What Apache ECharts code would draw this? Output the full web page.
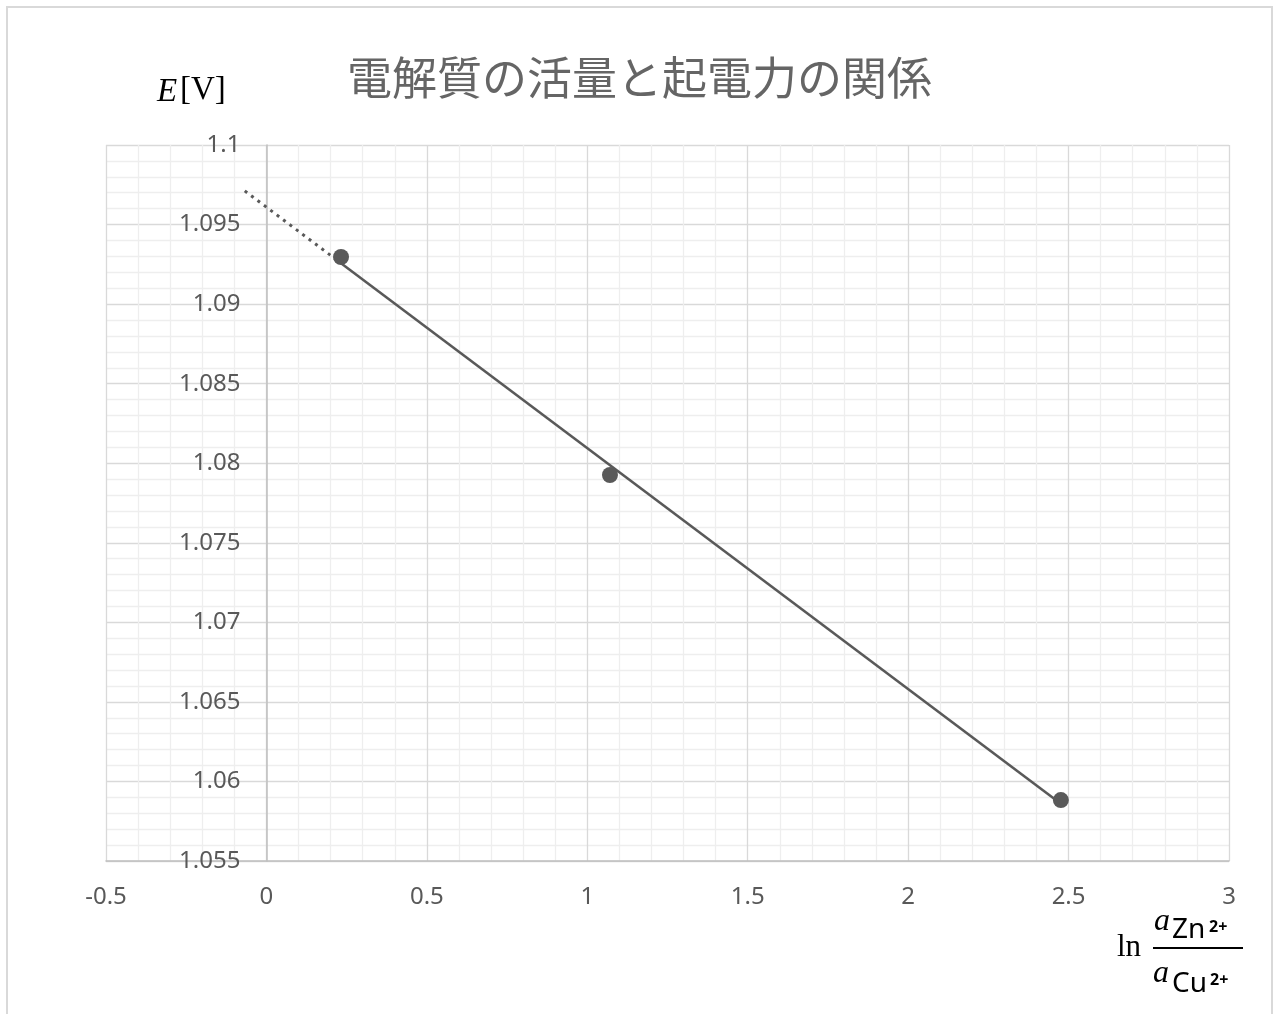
<!DOCTYPE html>
<html><head><meta charset="utf-8">
<script src="https://cdn.jsdelivr.net/npm/echarts@6/dist/echarts.min.js"></script>
<style>html,body{margin:0;padding:0;background:#fff}#c{width:1279px;height:1014px}</style>
</head><body><div id="c"></div>
<script>
const titleText = '電解質の活量と起電力の関係';
const lnRatio = [0.2325, 1.0707, 2.476];
const emfV = [1.09296, 1.07926, 1.05883];
const backcastStart = -0.0675;

// linear trendline (least squares) from the data
const n = lnRatio.length;
const mx = lnRatio.reduce((a,b)=>a+b,0)/n, my = emfV.reduce((a,b)=>a+b,0)/n;
let sxy=0, sxx=0;
for (let i=0;i<n;i++){ sxy+=(lnRatio[i]-mx)*(emfV[i]-my); sxx+=(lnRatio[i]-mx)**2; }
const slope = sxy/sxx, icpt = my - slope*mx;
const f = x => icpt + slope*x;
const xFirst = Math.min(...lnRatio), xLast = Math.max(...lnRatio);

const gridLeft = 106, gridRight = 50, width = 1279;
const xMin = -0.5, xMax = 3;
const plotW = width - gridLeft - gridRight;
const yAxisOffset = -plotW * (0 - xMin) / (xMax - xMin);

const chart = echarts.init(document.getElementById('c'));
const gray = '#595959';
const sans = '"Noto Sans", "Noto Sans CJK JP", sans-serif';
const cjk = '"Noto Sans CJK JP", sans-serif';
chart.setOption({
  animation:false,
  backgroundColor:'#fff',
  title:{text:titleText, left:'center', top:50,
    textStyle:{fontFamily:cjk, fontSize:45, fontWeight:'normal', color:'#656565'}},
  grid:{left:gridLeft, right:gridRight, top:145, bottom:153},
  xAxis:{type:'value', min:xMin, max:xMax, interval:0.5,
    axisLine:{show:true, onZero:false, lineStyle:{color:'#bfbfbf', width:1.5}},
    axisTick:{show:false},
    axisLabel:{color:gray, fontSize:24, fontFamily:sans, margin:24},
    splitLine:{show:true, lineStyle:{color:'#d9d9d9', width:1.3}},
    minorTick:{show:false, splitNumber:5},
    minorSplitLine:{show:true, lineStyle:{color:'#eeeeee', width:1.3}}},
  yAxis:{type:'value', min:1.055, max:1.1, interval:0.005, offset:yAxisOffset,
    axisLine:{show:true, onZero:false, lineStyle:{color:'#bfbfbf', width:1.5}},
    axisTick:{show:false},
    axisLabel:{color:gray, fontSize:24, fontFamily:sans, margin:26,
      formatter: v => String(parseFloat(v.toFixed(3)))},
    splitLine:{show:true, lineStyle:{color:'#d9d9d9', width:1.3}},
    minorTick:{show:false, splitNumber:5},
    minorSplitLine:{show:true, lineStyle:{color:'#eeeeee', width:1.3}}},
  series:[
    {type:'line', data:[[backcastStart, f(backcastStart)],[xFirst, f(xFirst)]], symbol:'none',
      lineStyle:{color:gray, width:3, type:[3,5]}, z:3},
    {type:'line', data:[[xFirst, f(xFirst)],[xLast, f(xLast)]], symbol:'none',
      lineStyle:{color:gray, width:2.6}, z:3},
    {type:'scatter', data:lnRatio.map((x,i)=>[x, emfV[i]]), symbol:'circle', symbolSize:16,
      itemStyle:{color:gray, opacity:1}, z:4}
  ],
  graphic:[
    {type:'rect', shape:{x:7, y:7, width:1265, height:1015}, style:{fill:'none', stroke:'#d9d9d9', lineWidth:2}, silent:true},
    {type:'text', left:157, top:76, style:{text:'E', font:'italic 33px "Liberation Serif", serif', fill:'#000'}},
    {type:'text', left:180, top:74, style:{text:'[V]', font:'33px "Liberation Serif", serif', fill:'#000'}},
    {type:'text', left:1117, top:932, style:{text:'ln', font:'31px "Liberation Serif", serif', fill:'#000'}},
    {type:'line', shape:{x1:1153, y1:948, x2:1243, y2:948}, style:{stroke:'#000', lineWidth:2}},
    {type:'text', left:1154, top:906, style:{text:'a', font:'italic 32px "Liberation Serif", serif', fill:'#000'}},
    {type:'text', left:1172, top:916, style:{text:'Zn', font:'28px "Noto Sans", sans-serif', fill:'#000'}},
    {type:'text', left:1209, top:919, style:{text:'2+', font:'bold 16px "Noto Sans", sans-serif', fill:'#000'}},
    {type:'text', left:1153, top:958, style:{text:'a', font:'italic 32px "Liberation Serif", serif', fill:'#000'}},
    {type:'text', left:1172, top:970, style:{text:'Cu', font:'28px "Noto Sans", sans-serif', fill:'#000'}},
    {type:'text', left:1210, top:972, style:{text:'2+', font:'bold 16px "Noto Sans", sans-serif', fill:'#000'}}
  ]
});
</script></body></html>
